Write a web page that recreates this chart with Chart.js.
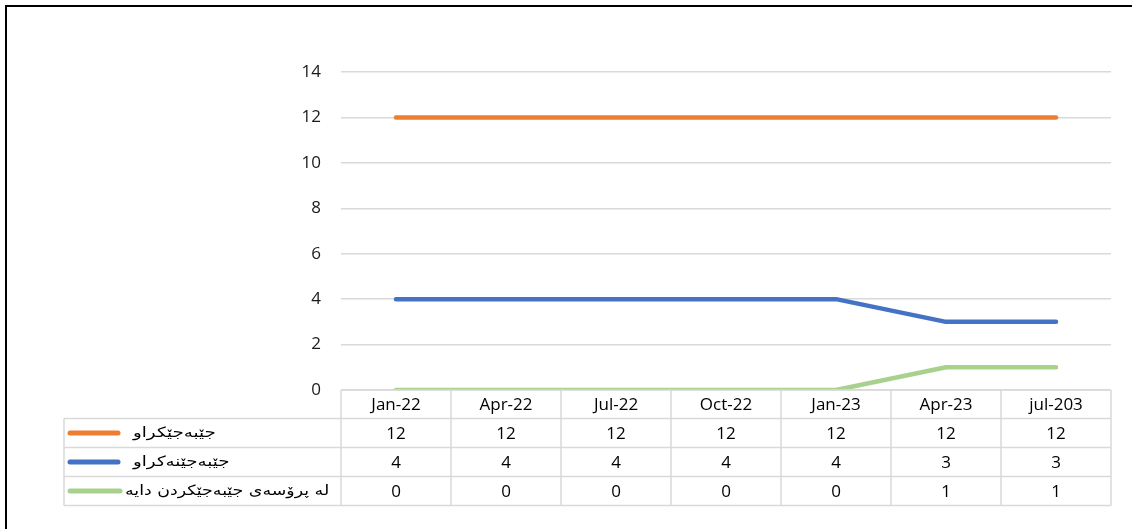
<html lang="ckb">
<head>
    <meta charset="UTF-8">
    <title>Chart</title>
    <script src="https://cdn.jsdelivr.net/npm/chart.js"></script>
    <style>
        body {
            margin: 0;
            padding: 0;
            background: #fff;
        }
        .frame {
            position: absolute;
            left: 5px;
            top: 5px;
            width: 1127px;
            height: 524px;
            border-top: 2px solid #000;
            border-left: 2px solid #000;
            box-sizing: border-box;
            pointer-events: none;
        }
    </style>
</head>
<body>
    <canvas id="chart" width="1132" height="529"></canvas>
    <div class="frame"></div>

    <script>
        // chart data
        const categories = ['Jan-22', 'Apr-22', 'Jul-22', 'Oct-22', 'Jan-23', 'Apr-23', 'jul-203'];
        const seriesNames = ['جێبەجێکراو', 'جێبەجێنەکراو', 'لە پرۆسەی جێبەجێکردن دایە'];
        const doneValues = [12, 12, 12, 12, 12, 12, 12];
        const notDoneValues = [4, 4, 4, 4, 4, 3, 3];
        const inProgressValues = [0, 0, 0, 0, 0, 1, 1];
        const seriesColors = ['#ED7D31', '#4472C4', '#A9D18E'];
        const yMin = 0, yMax = 14, yStep = 2;

        const seriesValues = [doneValues, notDoneValues, inProgressValues];
        const numFont = '17px "Open Sans", sans-serif';
        const gridColor = '#d9d9d9';

        // Excel-like data table under the plot
        const dataTable = {
            id: 'dataTable',
            afterDraw(chart) {
                const ctx = chart.ctx;
                const area = chart.chartArea;
                const xs = chart.scales.x;
                const colW = (area.right - area.left) / categories.length;
                const headerH = 28.5, rowH = 29;
                const tableLeft = 64;
                const top = area.bottom;
                const bottom = top + headerH + rowH * seriesNames.length;
                const keyEnds = [118, 118, 120];
                const textStarts = [133, 133, 125];
                const stretch = [1.3, 1.3, 1.24];

                ctx.save();
                ctx.strokeStyle = gridColor;
                ctx.lineWidth = 1.5;
                ctx.beginPath();
                // column separators
                for (let i = 0; i <= categories.length; i++) {
                    const x = area.left + i * colW;
                    ctx.moveTo(x, top);
                    ctx.lineTo(x, bottom);
                }
                ctx.moveTo(tableLeft, top + headerH);
                ctx.lineTo(tableLeft, bottom);
                // rows
                ctx.moveTo(area.left, top);
                ctx.lineTo(area.right, top);
                for (let r = 0; r <= seriesNames.length; r++) {
                    const y = top + headerH + r * rowH;
                    ctx.moveTo(tableLeft, y);
                    ctx.lineTo(area.right, y);
                }
                ctx.stroke();

                ctx.fillStyle = '#000';
                ctx.textAlign = 'center';
                ctx.textBaseline = 'middle';
                ctx.font = numFont;
                categories.forEach((c, i) => {
                    ctx.fillText(c, xs.getPixelForValue(i), top + headerH / 2 + 1);
                });

                seriesNames.forEach((name, r) => {
                    const cy = top + headerH + r * rowH + rowH / 2;
                    ctx.font = numFont;
                    ctx.textAlign = 'center';
                    seriesValues[r].forEach((v, i) => {
                        ctx.fillText(String(v), xs.getPixelForValue(i), cy + 1);
                    });
                    // legend key
                    ctx.strokeStyle = seriesColors[r];
                    ctx.lineWidth = 5;
                    ctx.lineCap = 'round';
                    ctx.beginPath();
                    ctx.moveTo(70, cy);
                    ctx.lineTo(keyEnds[r], cy);
                    ctx.stroke();
                    // series name, stretched a bit like the original
                    ctx.save();
                    ctx.font = '14px "DejaVu Sans", sans-serif';
                    ctx.direction = 'rtl';
                    ctx.textAlign = 'left';
                    ctx.translate(textStarts[r], cy);
                    ctx.scale(stretch[r], 1);
                    ctx.fillText(name, 0, 0);
                    ctx.restore();
                });
                ctx.restore();
            }
        };

        new Chart(document.getElementById('chart').getContext('2d'), {
            type: 'line',
            data: {
                labels: categories,
                datasets: seriesNames.map((name, i) => ({
                    label: name,
                    data: seriesValues[i],
                    borderColor: seriesColors[i],
                    backgroundColor: seriesColors[i],
                    borderWidth: 4.5,
                    borderCapStyle: 'round',
                    borderJoinStyle: 'round',
                    pointRadius: 0,
                    tension: 0,
                    fill: false
                }))
            },
            options: {
                responsive: false,
                animation: false,
                layout: {
                    padding: { top: 72, right: 21, bottom: 139, left: 0 }
                },
                plugins: {
                    legend: { display: false },
                    tooltip: { enabled: false }
                },
                scales: {
                    x: {
                        display: false,
                        offset: true
                    },
                    y: {
                        min: yMin,
                        max: yMax,
                        ticks: {
                            stepSize: yStep,
                            padding: 20,
                            color: '#1a1a1a',
                            font: { family: '"Open Sans", sans-serif', size: 17 }
                        },
                        grid: {
                            color: gridColor,
                            lineWidth: 1.5,
                            drawTicks: false
                        },
                        border: { display: false },
                        afterFit(scale) {
                            scale.width = 341;
                        }
                    }
                }
            },
            plugins: [dataTable]
        });
    </script>
</body>
</html>
